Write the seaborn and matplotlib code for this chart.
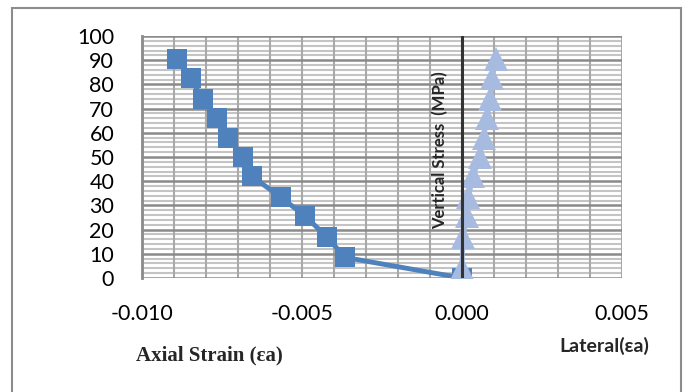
import matplotlib
matplotlib.use("Agg")
import matplotlib.pyplot as plt
import seaborn as sns
import pandas as pd
import numpy as np
from matplotlib.patches import Rectangle
from matplotlib.ticker import MultipleLocator

# Data
stress = [0, 8.5, 17, 25.5, 33.5, 42, 50, 58, 66, 74, 82.5, 90.5]
axial_strain = [0.0, -0.00366, -0.00422, -0.0049, -0.00567, -0.00657,
                -0.00683, -0.0073, -0.00767, -0.0081, -0.00848, -0.00892]
lateral_strain = [0.0, 0.0, 0.00003, 0.00015, 0.0002, 0.00035,
                  0.00055, 0.00068, 0.00078, 0.00088, 0.00095, 0.00105]
x_ticks = [-0.010, -0.005, 0.000, 0.005]
x_tick_labels = ["-0.010", "-0.005", "0.000", "0.005"]
y_ticks = list(range(0, 101, 10))

sns.set_theme(style="white")
plt.rcParams['font.family'] = ['Lato', 'DejaVu Sans']

fig = plt.figure(figsize=(6.88, 3.92), dpi=100)
ax = fig.add_axes([142/688, 114/392, 480/688, 242/392])

df_ax = pd.DataFrame({"strain": axial_strain, "stress": stress})
df_lat = pd.DataFrame({"strain": lateral_strain, "stress": stress})

sns.lineplot(data=df_ax, x="strain", y="stress", sort=False, ax=ax,
             color="#4F81BD", linewidth=3.5, marker="s", markersize=15,
             markeredgewidth=0, zorder=5)
sns.lineplot(data=df_lat, x="strain", y="stress", sort=False, ax=ax,
             color="#A7BADF", linewidth=3.5, marker="^", markersize=17,
             markeredgewidth=0, zorder=6)

ax.set_xlim(-0.010, 0.005)
ax.set_ylim(0, 100)
ax.set_xticks(x_ticks)
ax.set_xticklabels(x_tick_labels)
ax.set_yticks(y_ticks)
ax.xaxis.set_minor_locator(MultipleLocator(0.001))
ax.yaxis.set_minor_locator(MultipleLocator(2))

ax.grid(False)
for yv in np.arange(0, 101, 2):
    if yv % 10 != 0:
        ax.axhline(yv, color="#C4C4C4", linewidth=1.5, zorder=1)
for xv in np.arange(-0.010, 0.0051, 0.001):
    ax.axvline(xv, color="#A9A9A9", linewidth=1.5, zorder=1.5)
for yv in y_ticks:
    ax.axhline(yv, color="#8A8A8A", linewidth=1.8, zorder=2)

ax.axvline(0, color="#333333", linewidth=2.2, zorder=10)

for s in ["top", "right", "bottom"]:
    ax.spines[s].set_visible(False)
ax.spines["left"].set_color("#8A8A8A")
ax.spines["left"].set_linewidth(2)

ax.tick_params(axis="both", which="both", length=0, labelsize=15.5, colors="black")
ax.tick_params(axis="y", pad=20)
ax.tick_params(axis="x", pad=19)
ax.set_xlabel("")
ax.set_ylabel("")

fig.text(440/688, 1 - 150/392, "Vertical Stress  (MPa)", rotation=90,
         ha="center", va="center", fontsize=12, fontweight="bold",
         family=["Lato", "DejaVu Sans"], zorder=20)
fig.text(209/688, 1 - 355/392, "Axial Strain (εa)", ha="center", va="center",
         fontsize=15, fontweight="bold", family=["Liberation Serif", "DejaVu Serif"])
fig.text(604/688, 1 - 346/392, "Lateral(εa)", ha="center", va="center",
         fontsize=14, fontweight="bold", family=["Lato", "DejaVu Sans"])

fig.patches.append(Rectangle((12/688, -0.05), 669/688, (1 - 8/392) + 0.05,
                             transform=fig.transFigure, fill=False,
                             edgecolor="#8C8C8C", linewidth=1.5))

fig.savefig("out.png", dpi=100)
